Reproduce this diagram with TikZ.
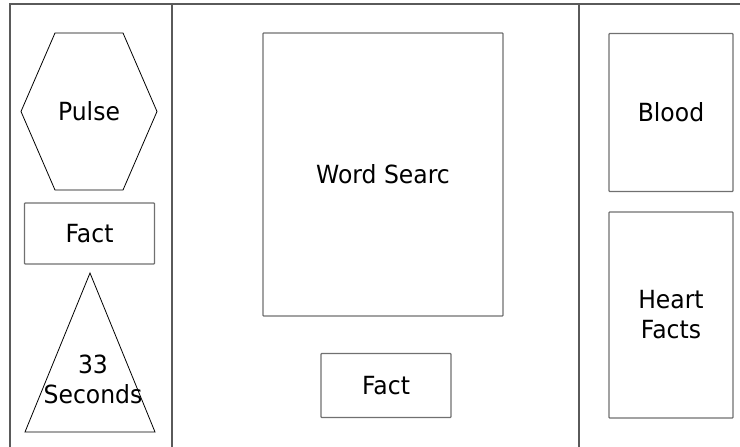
\documentclass[tikz,border=0pt]{standalone}
\usepackage{fontspec}
\setmainfont{DejaVu Sans}[FakeStretch=0.94]
\definecolor{boxgray}{RGB}{112,112,112}
\definecolor{framegray}{RGB}{90,90,90}
\begin{document}
\begin{tikzpicture}[x=1pt,y=-1pt,
  every node/.style={font=\fontsize{25}{30}\selectfont, inner sep=0pt, align=center},
  box/.style={draw=boxgray, line width=1.3pt, rounded corners=0.8pt},
  frameline/.style={draw=framegray, line width=1.3pt},
  shapeline/.style={draw=black, line width=0.8pt}]
\useasboundingbox (0,0) rectangle (740,447);
% frame
\coordinate (fl) at (10,447);
\coordinate (ftl) at (10,4);
\coordinate (ftr) at (740,4);
\coordinate (d1t) at (172,4);
\coordinate (d1b) at (172,447);
\coordinate (d2t) at (579,4);
\coordinate (d2b) at (579,447);
\draw[frameline] (fl) -- (ftl) -- (ftr);
\draw[frameline] (d1t) -- (d1b);
\draw[frameline] (d2t) -- (d2b);
% left column
\draw[shapeline] (55,33) -- (123,33) -- (157,111.5) -- (123,190) -- (55,190) -- (21,111.5) -- cycle;
\node (pulse) at (89,111.5) {Pulse};
\node[box, minimum width=130pt, minimum height=61pt] (fact1) at (89.5,233.5) {Fact};
\draw[shapeline] (90,273) -- (155,432) -- (25,432) -- cycle;
\node (sec) at (93,379) {33\\Seconds};
% middle column
\node[box, minimum width=240pt, minimum height=283pt] (ws) at (383,174.5) {Word Searc};
\node[box, minimum width=130pt, minimum height=64pt] (fact2) at (386,385.5) {Fact};
% right column
\node[box, minimum width=124pt, minimum height=158pt] (blood) at (671,112.5) {Blood};
\node[box, minimum width=124pt, minimum height=206pt] (heart) at (671,315) {Heart\\Facts};
\end{tikzpicture}
\end{document}
